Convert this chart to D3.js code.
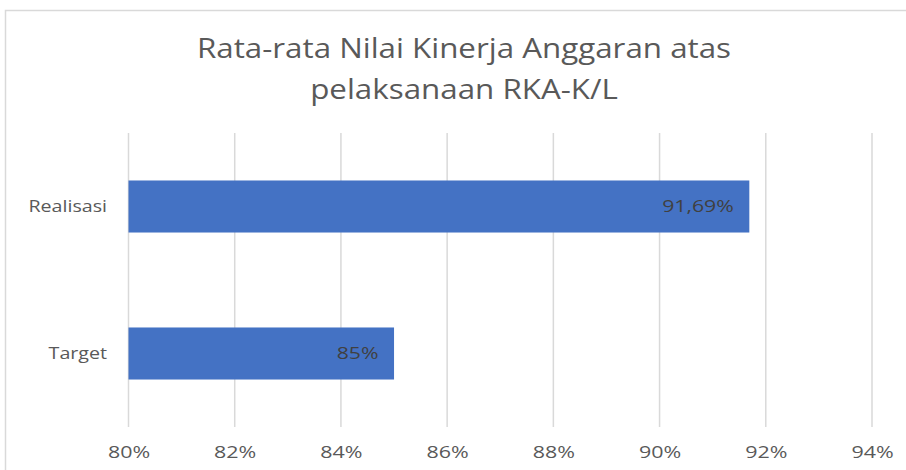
<!DOCTYPE html>
<html>
<head>
<meta charset="utf-8">
<script src="https://cdn.jsdelivr.net/npm/d3@7"></script>
<style>
  body { margin: 0; background: #fff; }
  svg { display: block; font-family: "Open Sans", "DejaVu Sans", sans-serif; }
</style>
</head>
<body>
<svg id="chart"></svg>
<script>
// data
var categories = ["Realisasi", "Target"];
var values = [0.9169, 0.85];
var valueLabels = ["91,69%", "85%"];
var ticks = [0.80, 0.82, 0.84, 0.86, 0.88, 0.90, 0.92, 0.94];
var titleLines = ["Rata-rata Nilai Kinerja Anggaran atas", "pelaksanaan RKA-K/L"];

var width = 906, height = 470;

var svg = d3.select("#chart")
    .attr("width", width)
    .attr("height", height);

// the screenshot text looks a bit wider than Open Sans, stretch it
var stretch = function(sel, f) {
    sel.each(function() {
        var w = this.getComputedTextLength();
        d3.select(this)
            .attr("textLength", w * f)
            .attr("lengthAdjust", "spacingAndGlyphs");
    });
};

// chart frame (cut off at right and bottom like the screenshot)
svg.append("rect")
    .attr("x", 5.5).attr("y", 10.5)
    .attr("width", width + 10).attr("height", height + 10)
    .attr("fill", "#fff")
    .attr("stroke", "#d9d9d9")
    .attr("stroke-width", 1.5);

var xScale = d3.scaleLinear()
    .domain([0.80, 0.94])
    .range([128.5, 872]);

var yScale = d3.scaleBand()
    .domain(categories)
    .range([133, 427])
    .paddingInner(0.646)
    .paddingOuter(0.323);

// gridlines
svg.append("g")
    .selectAll("line")
    .data(ticks)
    .enter()
    .append("line")
    .attr("x1", function(d){ return xScale(d); })
    .attr("x2", function(d){ return xScale(d); })
    .attr("y1", 133)
    .attr("y2", 427)
    .attr("stroke", "#d9d9d9")
    .attr("stroke-width", 1.5);

// x axis labels
var xAxis = d3.axisBottom(xScale)
    .tickValues(ticks)
    .tickSize(0)
    .tickPadding(0)
    .tickFormat(function(d){ return Math.round(d * 100) + "%"; });

var gx = svg.append("g")
    .attr("transform", "translate(0,458)")
    .call(xAxis);
gx.select(".domain").remove();
gx.selectAll("text")
    .attr("dy", null)
    .attr("y", 0)
    .attr("fill", "#595959")
    .style("font-size", "16.5px")
    .style("font-family", "\"Open Sans\", sans-serif")
    .call(stretch, 1.3);

// y axis labels
var yAxis = d3.axisLeft(yScale).tickSize(0).tickPadding(0);
var gy = svg.append("g")
    .attr("transform", "translate(107,0)")
    .call(yAxis);
gy.select(".domain").remove();
gy.selectAll("text")
    .attr("fill", "#595959")
    .style("font-size", "16.5px")
    .style("font-family", "\"Open Sans\", sans-serif")
    .call(stretch, 1.19);

// bars
var bars = svg.append("g")
    .selectAll("g")
    .data(categories)
    .enter()
    .append("g");

bars.append("rect")
    .attr("x", xScale(0.80))
    .attr("y", function(d){ return yScale(d); })
    .attr("width", function(d, i){ return xScale(values[i]) - xScale(0.80); })
    .attr("height", yScale.bandwidth())
    .attr("fill", "#4472c4");

bars.append("text")
    .attr("x", function(d, i){ return xScale(values[i]) - 15.5; })
    .attr("y", function(d){ return yScale(d) + yScale.bandwidth() / 2; })
    .attr("dy", "0.35em")
    .attr("text-anchor", "end")
    .attr("fill", "#404040")
    .style("font-size", "17px")
    .text(function(d, i){ return valueLabels[i]; })
    .call(stretch, 1.25);

// title
svg.append("g")
    .selectAll("text")
    .data(titleLines)
    .enter()
    .append("text")
    .attr("x", 464)
    .attr("y", function(d, i){ return 58 + i * 41; })
    .attr("text-anchor", "middle")
    .attr("fill", "#595959")
    .style("font-size", "27px")
    .text(function(d){ return d; })
    .call(stretch, 1.16);
</script>
</body>
</html>
